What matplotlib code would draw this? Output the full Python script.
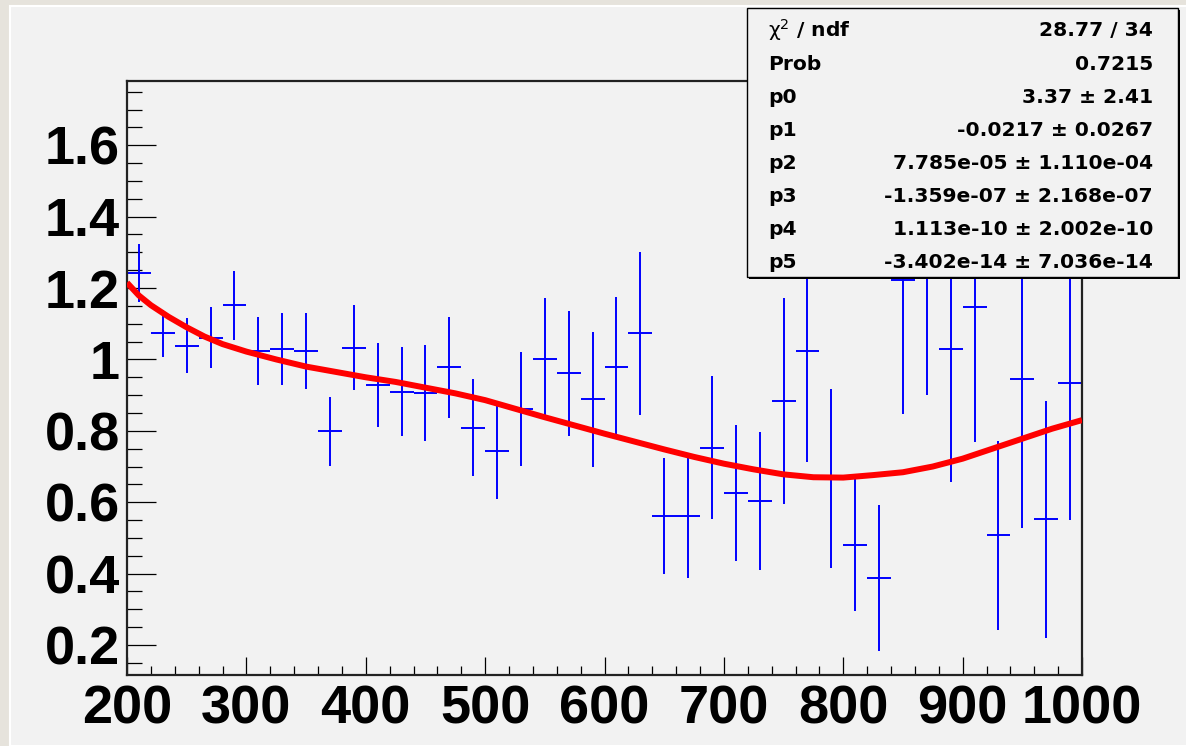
import matplotlib
matplotlib.use("Agg")
import matplotlib.pyplot as plt
from matplotlib.patches import Rectangle
from matplotlib.ticker import MultipleLocator, FixedLocator, FixedFormatter

# bin centres (bin width 20) and measured ratio
bin_x = [210, 230, 250, 270, 290, 310, 330, 350, 370, 390,
         410, 430, 450, 470, 490, 510, 530, 550, 570, 590,
         610, 630, 650, 670, 690, 710, 730, 750, 770, 790,
         810, 830, 850, 870, 890, 910, 930, 950, 970, 990]
ratio = [1.242, 1.073, 1.039, 1.061, 1.152, 1.023, 1.029, 1.023, 0.799, 1.033,
         0.928, 0.910, 0.906, 0.978, 0.809, 0.743, 0.861, 1.001, 0.961, 0.888,
         0.978, 1.073, 0.562, 0.562, 0.753, 0.625, 0.603, 0.883, 1.023, 0.666,
         0.479, 0.388, 1.222, 1.270, 1.029, 1.146, 0.507, 0.944, 0.552, 0.933]
ratio_err = [0.080, 0.065, 0.078, 0.085, 0.097, 0.095, 0.100, 0.106, 0.097, 0.120,
             0.118, 0.125, 0.134, 0.141, 0.136, 0.134, 0.159, 0.170, 0.176, 0.190,
             0.198, 0.229, 0.162, 0.173, 0.200, 0.190, 0.193, 0.288, 0.310, 0.251,
             0.185, 0.204, 0.374, 0.370, 0.373, 0.378, 0.265, 0.415, 0.332, 0.383]
half_width = 10

# fitted pol5 curve
fit_x = [200, 210, 220, 235, 250, 265, 280, 300, 325, 350, 375, 400, 425, 450, 475,
         500, 525, 550, 575, 600, 625, 650, 675, 700, 725, 750, 775, 800, 825,
         850, 875, 900, 925, 950, 975, 1000]
fit_y = [1.215, 1.179, 1.152, 1.119, 1.090, 1.064, 1.043, 1.022, 1.000, 0.980, 0.965,
         0.950, 0.937, 0.921, 0.905, 0.886, 0.862, 0.838, 0.815, 0.792, 0.770,
         0.748, 0.727, 0.708, 0.692, 0.678, 0.670, 0.669, 0.676, 0.684, 0.700,
         0.722, 0.750, 0.778, 0.806, 0.830]

stat_names = [r"$\mathrm{\chi}^{2}$ / ndf", "Prob", "p0", "p1", "p2", "p3", "p4", "p5"]
stat_values = ["28.77 / 34", "0.7215", "3.37 ± 2.41", "-0.0217 ± 0.0267",
               "7.785e-05 ± 1.110e-04", "-1.359e-07 ± 2.168e-07",
               "1.113e-10 ± 2.002e-10", "-3.402e-14 ± 7.036e-14"]

y_ticks = [0.2, 0.4, 0.6, 0.8, 1.0, 1.2, 1.4, 1.6]
y_tick_labels = ["0.2", "0.4", "0.6", "0.8", "1", "1.2", "1.4", "1.6"]
x_ticks = [200, 300, 400, 500, 600, 700, 800, 900, 1000]

W, H = 1186, 746
fig = plt.figure(figsize=(W / 100, H / 100), dpi=100)
fig.patch.set_facecolor("#e6e3dc")
# canvas
fig.patches.append(Rectangle((10 / W, 0), 1, 1 - 6 / H, transform=fig.transFigure,
                             facecolor="#f2f2f2", edgecolor="white", lw=1.5, zorder=-1))

ax = fig.add_axes([127 / W, 1 - 675 / H, (1082 - 127) / W, (675 - 81) / H])
ax.set_facecolor("#f2f2f2")

ax.errorbar(bin_x, ratio, xerr=half_width, yerr=ratio_err, fmt="none",
            ecolor="#0000ff", elinewidth=1.4, capsize=0, zorder=2)
ax.plot(fit_x, fit_y, color="#ff0000", lw=4.3, zorder=3, solid_capstyle="butt")

ax.set_xlim(200, 1000)
ax.set_ylim(0.116, 1.78)

ax.xaxis.set_major_locator(FixedLocator(x_ticks))
ax.xaxis.set_minor_locator(MultipleLocator(20))
ax.yaxis.set_major_locator(FixedLocator(y_ticks))
ax.yaxis.set_major_formatter(FixedFormatter(y_tick_labels))
ax.yaxis.set_minor_locator(MultipleLocator(0.05))

for lab in ax.get_xticklabels() + ax.get_yticklabels():
    lab.set_fontfamily("Liberation Sans")
    lab.set_fontweight("bold")
    lab.set_fontsize(39)

ax.tick_params(axis="y", which="major", direction="in", length=21, width=0.9,
               color="black", pad=5, right=False)
ax.tick_params(axis="y", which="minor", direction="in", length=10.8, width=0.9,
               color="black", right=False)
ax.tick_params(axis="x", which="major", direction="in", length=13, width=0.9,
               color="black", pad=7, top=False)
ax.tick_params(axis="x", which="minor", direction="in", length=6.5, width=0.9,
               color="black", top=False)
for sp in ax.spines.values():
    sp.set_linewidth(1.6)
    sp.set_color("#222222")

# stats box with shadow
bx0, bx1, by0, by1 = 747, 1178, 8, 277
fig.patches.append(Rectangle(((bx0 + 2) / W, 1 - (by1 + 2) / H), (bx1 - bx0) / W,
                             (by1 - by0) / H, transform=fig.transFigure,
                             facecolor="black", edgecolor="none", zorder=4))
fig.patches.append(Rectangle((bx0 / W, 1 - by1 / H), (bx1 - bx0) / W,
                             (by1 - by0) / H, transform=fig.transFigure,
                             facecolor="#f2f2f2", edgecolor="black", lw=1.0, zorder=5))
for i, (name, val) in enumerate(zip(stat_names, stat_values)):
    yb = 1 - (36.5 + 33.1 * i) / H
    fig.text(768 / W, yb, name, ha="left", va="baseline", fontsize=14.6,
             fontweight="bold", family="DejaVu Sans", zorder=6)
    fig.text(1153 / W, yb, val, ha="right", va="baseline", fontsize=14.6,
             fontweight="bold", family="DejaVu Sans", zorder=6)

fig.savefig("out.png", dpi=100, facecolor=fig.get_facecolor())
